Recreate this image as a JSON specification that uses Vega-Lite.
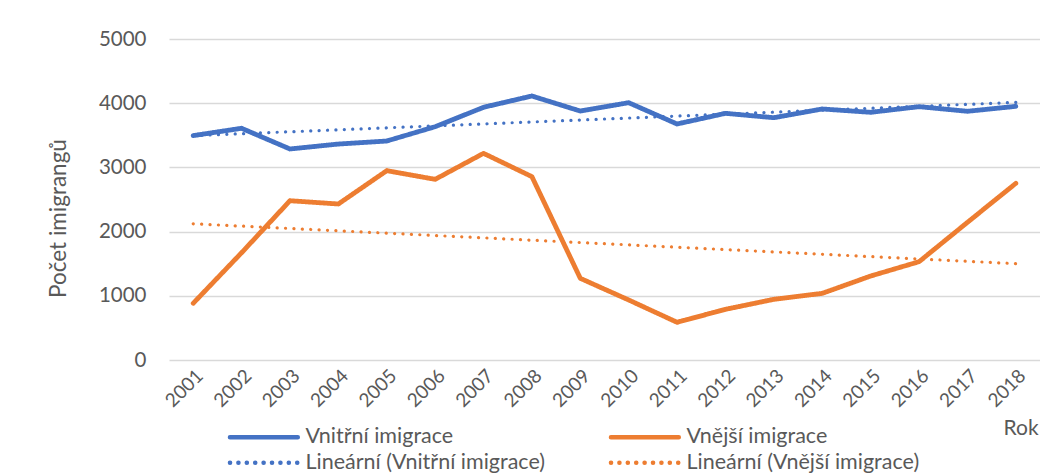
{
  "$schema": "https://vega.github.io/schema/vega-lite/v6.json",
  "width": 871,
  "height": 321,
  "autosize": {"type": "none"},
  "padding": {"left": 169, "top": 39, "right": 0, "bottom": 113},
  "background": "white",
  "config": {
    "font": "Lato",
    "view": {"stroke": null},
    "axis": {"labelColor": "#595959", "titleColor": "#595959", "labelFont": "Lato", "titleFont": "Lato", "titleFontWeight": "normal"},
    "legend": {"labelColor": "#595959", "labelFont": "Lato"}
  },
  "data": {
    "values": [
      {"year": 2001, "series": "Vnitřní imigrace", "trend": "Lineární (Vnitřní imigrace)", "value": 3495},
      {"year": 2002, "series": "Vnitřní imigrace", "trend": "Lineární (Vnitřní imigrace)", "value": 3609},
      {"year": 2003, "series": "Vnitřní imigrace", "trend": "Lineární (Vnitřní imigrace)", "value": 3287},
      {"year": 2004, "series": "Vnitřní imigrace", "trend": "Lineární (Vnitřní imigrace)", "value": 3364},
      {"year": 2005, "series": "Vnitřní imigrace", "trend": "Lineární (Vnitřní imigrace)", "value": 3411},
      {"year": 2006, "series": "Vnitřní imigrace", "trend": "Lineární (Vnitřní imigrace)", "value": 3634},
      {"year": 2007, "series": "Vnitřní imigrace", "trend": "Lineární (Vnitřní imigrace)", "value": 3936},
      {"year": 2008, "series": "Vnitřní imigrace", "trend": "Lineární (Vnitřní imigrace)", "value": 4112},
      {"year": 2009, "series": "Vnitřní imigrace", "trend": "Lineární (Vnitřní imigrace)", "value": 3878},
      {"year": 2010, "series": "Vnitřní imigrace", "trend": "Lineární (Vnitřní imigrace)", "value": 4008},
      {"year": 2011, "series": "Vnitřní imigrace", "trend": "Lineární (Vnitřní imigrace)", "value": 3676},
      {"year": 2012, "series": "Vnitřní imigrace", "trend": "Lineární (Vnitřní imigrace)", "value": 3842},
      {"year": 2013, "series": "Vnitřní imigrace", "trend": "Lineární (Vnitřní imigrace)", "value": 3774},
      {"year": 2014, "series": "Vnitřní imigrace", "trend": "Lineární (Vnitřní imigrace)", "value": 3910},
      {"year": 2015, "series": "Vnitřní imigrace", "trend": "Lineární (Vnitřní imigrace)", "value": 3858},
      {"year": 2016, "series": "Vnitřní imigrace", "trend": "Lineární (Vnitřní imigrace)", "value": 3946},
      {"year": 2017, "series": "Vnitřní imigrace", "trend": "Lineární (Vnitřní imigrace)", "value": 3874},
      {"year": 2018, "series": "Vnitřní imigrace", "trend": "Lineární (Vnitřní imigrace)", "value": 3951},
      {"year": 2001, "series": "Vnější imigrace", "trend": "Lineární (Vnější imigrace)", "value": 883},
      {"year": 2002, "series": "Vnější imigrace", "trend": "Lineární (Vnější imigrace)", "value": 1671},
      {"year": 2003, "series": "Vnější imigrace", "trend": "Lineární (Vnější imigrace)", "value": 2481},
      {"year": 2004, "series": "Vnější imigrace", "trend": "Lineární (Vnější imigrace)", "value": 2430},
      {"year": 2005, "series": "Vnější imigrace", "trend": "Lineární (Vnější imigrace)", "value": 2949},
      {"year": 2006, "series": "Vnější imigrace", "trend": "Lineární (Vnější imigrace)", "value": 2814},
      {"year": 2007, "series": "Vnější imigrace", "trend": "Lineární (Vnější imigrace)", "value": 3219},
      {"year": 2008, "series": "Vnější imigrace", "trend": "Lineární (Vnější imigrace)", "value": 2856},
      {"year": 2009, "series": "Vnější imigrace", "trend": "Lineární (Vnější imigrace)", "value": 1272},
      {"year": 2010, "series": "Vnější imigrace", "trend": "Lineární (Vnější imigrace)", "value": 935},
      {"year": 2011, "series": "Vnější imigrace", "trend": "Lineární (Vnější imigrace)", "value": 587},
      {"year": 2012, "series": "Vnější imigrace", "trend": "Lineární (Vnější imigrace)", "value": 789},
      {"year": 2013, "series": "Vnější imigrace", "trend": "Lineární (Vnější imigrace)", "value": 945},
      {"year": 2014, "series": "Vnější imigrace", "trend": "Lineární (Vnější imigrace)", "value": 1038},
      {"year": 2015, "series": "Vnější imigrace", "trend": "Lineární (Vnější imigrace)", "value": 1308},
      {"year": 2016, "series": "Vnější imigrace", "trend": "Lineární (Vnější imigrace)", "value": 1531},
      {"year": 2017, "series": "Vnější imigrace", "trend": "Lineární (Vnější imigrace)", "value": 2144},
      {"year": 2018, "series": "Vnější imigrace", "trend": "Lineární (Vnější imigrace)", "value": 2752}
    ]
  },
  "encoding": {
    "x": {
      "field": "year", "type": "ordinal",
      "scale": {"type": "point", "padding": 0.5},
      "axis": {
        "title": "Rok", "titleFontSize": 21, "titleX": 834, "titleY": 68, "titleAlign": "left", "titleBaseline": "middle", "titleAnchor": null,
        "labelAngle": -45, "labelFontSize": 19, "labelPadding": 6, "ticks": false, "domain": false, "grid": false
      }
    },
    "y": {
      "field": "value", "type": "quantitative",
      "scale": {"domain": [0, 5000], "nice": false},
      "axis": {
        "title": "Počet imigrangů", "titleFontSize": 22.5, "titleX": -111, "titleY": 179, "titleAngle": -90, "titleAlign": "center", "titleBaseline": "middle", "titleAnchor": null,
        "values": [0, 1000, 2000, 3000, 4000, 5000], "format": "d", "labelFontSize": 20.5, "labelPadding": 23,
        "ticks": false, "domain": false, "gridColor": "#d9d9d9", "gridWidth": 1.3
      }
    }
  },
  "layer": [
    {
      "transform": [{"regression": "value", "on": "year", "groupby": ["trend"]}],
      "mark": {"type": "line", "strokeWidth": 3.2, "strokeCap": "round", "strokeDash": [0.1, 8.3]},
      "encoding": {
        "color": {"field": "trend", "type": "nominal"},
        "strokeDash": {"field": "trend", "type": "nominal"}
      }
    },
    {
      "mark": {"type": "line", "strokeWidth": 4.8, "strokeCap": "round", "strokeJoin": "round"},
      "encoding": {
        "color": {
          "field": "series", "type": "nominal",
          "scale": {
            "domain": ["Vnitřní imigrace", "Vnější imigrace", "Lineární (Vnitřní imigrace)", "Lineární (Vnější imigrace)"],
            "range": ["#4472C4", "#ED7D31", "#4472C4", "#ED7D31"]
          },
          "legend": {
            "title": null, "orient": "none", "legendX": 57, "legendY": 387, "direction": "horizontal", "columns": 2,
            "columnPadding": 55, "rowPadding": 3, "labelFontSize": 21.5, "labelOffset": 58,
            "symbolType": "M-1,0H9", "symbolSize": 184, "symbolStrokeWidth": 4.5, "padding": 0, "labelLimit": 400,
            "encode": {"symbols": {"update": {"strokeCap": {"value": "round"}}}}
          }
        },
        "strokeDash": {
          "field": "series", "type": "nominal",
          "scale": {
            "domain": ["Vnitřní imigrace", "Vnější imigrace", "Lineární (Vnitřní imigrace)", "Lineární (Vnější imigrace)"],
            "range": [[1, 0], [1, 0], [0.1, 8.3], [0.1, 8.3]]
          },
          "legend": {
            "title": null, "orient": "none", "legendX": 57, "legendY": 387, "direction": "horizontal", "columns": 2,
            "columnPadding": 55, "rowPadding": 3, "labelFontSize": 21.5, "labelOffset": 58,
            "symbolType": "M-1,0H9", "symbolSize": 184, "symbolStrokeWidth": 4.5, "padding": 0, "labelLimit": 400,
            "encode": {"symbols": {"update": {"strokeCap": {"value": "round"}}}}
          }
        }
      }
    }
  ]
}
